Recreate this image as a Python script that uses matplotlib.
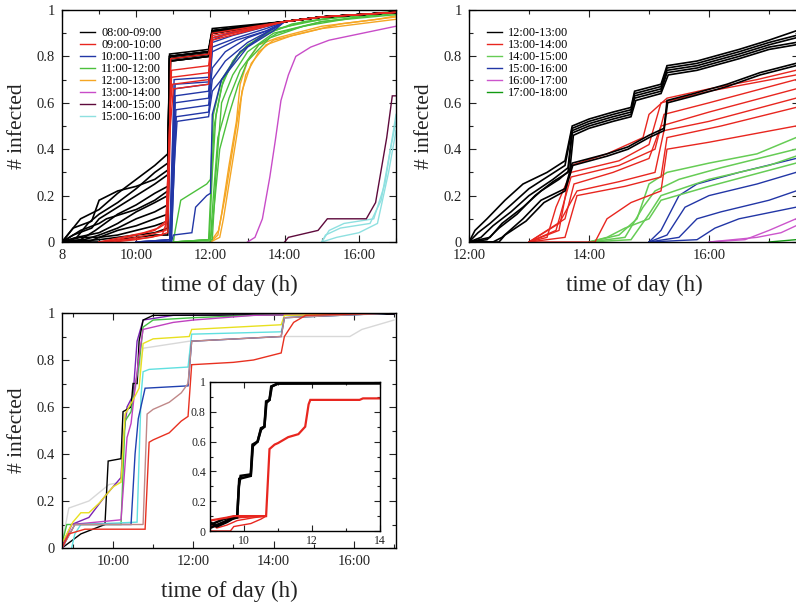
import numpy as np
import matplotlib
matplotlib.use("Agg")
import matplotlib.pyplot as plt
from matplotlib.lines import Line2D

plt.rcParams['font.family'] = ['Liberation Serif', 'DejaVu Serif']

# ---------------- panel 1: outbreaks started 08:00 ... 16:00 ----------------
p1_labels = ['08:00-09:00', '09:00-10:00', '10:00-11:00', '11:00-12:00',
             '12:00-13:00', '13:00-14:00', '14:00-15:00', '15:00-16:00']
p1_colors = ['#000000', '#e8261f', '#2236a6', '#4cc03c',
             '#f5a623', '#c84cc8', '#5e0a3c', '#8ee0e0']

p1_tail = [(14.0, 0.95), (15.0, 0.97), (16.5, 0.985), (17.0, 0.99)]

p1_black = [
    [(8.0, 0), (8.2, 0.04), (8.5, 0.1), (9.0, 0.14), (9.5, 0.21), (10.0, 0.27), (10.5, 0.33), (10.85, 0.38), (10.9, 0.8), (11.95, 0.82), (12.05, 0.91)],
    [(8.0, 0), (8.4, 0.02), (8.7, 0.08), (9.0, 0.12), (9.5, 0.17), (10.0, 0.23), (10.5, 0.3), (10.85, 0.34), (10.9, 0.79), (11.95, 0.81), (12.05, 0.9)],
    [(8.0, 0), (8.3, 0.03), (8.8, 0.06), (9.0, 0.1), (9.5, 0.15), (10.0, 0.2), (10.5, 0.25), (10.85, 0.29), (10.9, 0.8), (11.95, 0.82), (12.05, 0.91)],
    [(8.0, 0), (8.5, 0.01), (8.9, 0.05), (9.5, 0.12), (10.0, 0.16), (10.5, 0.21), (10.85, 0.24), (10.9, 0.78), (11.95, 0.8), (12.05, 0.9)],
    [(8.0, 0), (8.4, 0.02), (9.0, 0.04), (9.5, 0.08), (10.0, 0.13), (10.5, 0.17), (10.85, 0.2), (10.9, 0.79), (11.95, 0.81), (12.05, 0.91)],
    [(8.0, 0), (8.6, 0.01), (9.0, 0.03), (9.5, 0.06), (10.0, 0.1), (10.5, 0.13), (10.85, 0.16), (10.9, 0.8), (11.95, 0.82), (12.05, 0.9)],
    [(8.0, 0), (8.5, 0.02), (9.0, 0.02), (9.5, 0.05), (10.0, 0.07), (10.5, 0.1), (10.85, 0.12), (10.92, 0.78), (11.95, 0.8), (12.05, 0.9)],
    [(8.0, 0), (8.7, 0.0), (9.0, 0.02), (9.5, 0.03), (10.0, 0.05), (10.5, 0.07), (10.85, 0.09), (10.92, 0.79), (11.95, 0.81), (12.05, 0.91)],
    [(8.0, 0), (9.0, 0.01), (9.5, 0.02), (10.0, 0.03), (10.5, 0.04), (10.85, 0.06), (10.92, 0.8), (11.95, 0.82), (12.05, 0.9)],
    [(8.0, 0), (9.2, 0.0), (9.5, 0.01), (10.0, 0.02), (10.5, 0.03), (10.85, 0.03), (10.92, 0.78), (11.95, 0.8), (12.05, 0.9)],
    [(8.0, 0), (8.3, 0.06), (8.8, 0.09), (9.0, 0.18), (9.5, 0.22), (10.0, 0.24), (10.5, 0.27), (10.85, 0.31), (10.9, 0.81), (11.95, 0.83), (12.05, 0.92)],
    [(8.0, 0), (8.5, 0.05), (9.0, 0.08), (9.2, 0.1), (9.6, 0.12), (10.0, 0.14), (10.5, 0.18), (10.85, 0.22), (10.9, 0.8), (11.95, 0.82), (12.05, 0.91)],
]
p1_red = [
    [(9.0, 0), (9.5, 0.01), (10.0, 0.03), (10.5, 0.05), (10.8, 0.09), (10.88, 0.3), (10.93, 0.79), (11.95, 0.81), (12.05, 0.9)],
    [(9.0, 0), (9.6, 0.02), (10.2, 0.04), (10.6, 0.06), (10.8, 0.08), (10.88, 0.4), (10.95, 0.74), (11.95, 0.76), (12.05, 0.89)],
    [(9.0, 0), (9.7, 0.01), (10.3, 0.03), (10.8, 0.05), (10.9, 0.5), (10.95, 0.71), (11.95, 0.73), (12.05, 0.88)],
    [(9.0, 0), (9.4, 0.0), (10.0, 0.01), (10.7, 0.03), (10.85, 0.1), (10.92, 0.6), (10.98, 0.68), (11.95, 0.7), (12.05, 0.88)],
    [(9.0, 0), (9.8, 0.01), (10.4, 0.02), (10.85, 0.04), (10.92, 0.5), (11.0, 0.66), (11.95, 0.68), (12.05, 0.87)],
]
p1_blue = [
    [(10.0, 0), (10.9, 0.0), (10.97, 0.3), (11.02, 0.7), (11.95, 0.71), (12.05, 0.88), (12.5, 0.9), (13.2, 0.92)],
    [(10.0, 0), (10.9, 0.01), (10.97, 0.4), (11.03, 0.66), (11.95, 0.68), (12.05, 0.86), (12.6, 0.89), (13.3, 0.92)],
    [(10.0, 0), (10.92, 0.0), (10.98, 0.3), (11.05, 0.63), (11.95, 0.65), (12.05, 0.84), (12.7, 0.88), (13.5, 0.92)],
    [(10.0, 0), (10.92, 0.01), (11.0, 0.4), (11.05, 0.6), (11.95, 0.62), (12.05, 0.82), (12.7, 0.87), (13.5, 0.91)],
    [(10.0, 0), (10.93, 0.0), (11.0, 0.3), (11.07, 0.57), (11.95, 0.59), (12.05, 0.75), (12.4, 0.82), (13.0, 0.88), (13.7, 0.92)],
    [(10.0, 0), (10.94, 0.0), (11.02, 0.3), (11.08, 0.54), (11.95, 0.56), (12.05, 0.7), (12.4, 0.78), (13.0, 0.86), (13.7, 0.92)],
    [(10.0, 0), (10.95, 0.01), (11.03, 0.35), (11.1, 0.52), (11.95, 0.54), (12.05, 0.65), (12.5, 0.74), (13.0, 0.84), (13.7, 0.91)],
    [(10.0, 0), (10.95, 0.0), (11.0, 0.03), (11.5, 0.04), (11.6, 0.15), (11.9, 0.2), (12.0, 0.21), (12.05, 0.55), (12.3, 0.7), (12.8, 0.82), (13.5, 0.9)],
    [(10.0, 0), (10.93, 0.0), (11.0, 0.4), (11.05, 0.68), (11.95, 0.69), (12.05, 0.87), (12.5, 0.9), (13.2, 0.92)],
]
p1_green = [
    [(11.0, 0), (11.05, 0.05), (11.2, 0.18), (11.5, 0.21), (11.9, 0.25), (12.0, 0.27), (12.08, 0.55), (12.3, 0.7), (12.7, 0.8), (13.2, 0.87), (13.8, 0.92), (15.0, 0.96), (16.3, 0.98), (17.0, 0.99)],
    [(11.0, 0), (11.95, 0.01), (12.02, 0.25), (12.1, 0.5), (12.3, 0.67), (12.6, 0.78), (13.0, 0.85), (13.7, 0.91), (14.5, 0.95), (15.5, 0.97), (17.0, 0.99)],
    [(11.0, 0), (11.97, 0.01), (12.05, 0.3), (12.15, 0.55), (12.35, 0.7), (12.8, 0.82), (13.4, 0.89), (14.2, 0.94), (15.5, 0.97), (17.0, 0.995)],
    [(11.0, 0), (12.0, 0.01), (12.08, 0.2), (12.2, 0.45), (12.5, 0.62), (12.8, 0.74), (13.3, 0.85), (13.8, 0.9), (15.0, 0.95), (16.5, 0.98), (17.0, 0.99)],
    [(11.0, 0), (12.0, 0.0), (12.1, 0.15), (12.25, 0.4), (12.5, 0.55), (12.75, 0.68), (13.0, 0.78), (13.6, 0.88), (14.5, 0.93), (16.0, 0.97), (17.0, 0.985)],
    [(11.0, 0), (12.05, 0.01), (12.15, 0.3), (12.3, 0.6), (12.6, 0.72), (13.0, 0.82), (13.7, 0.9), (15.0, 0.95), (17.0, 0.98)],
]
p1_orange = [
    [(12.0, 0), (12.2, 0.03), (12.3, 0.12), (12.5, 0.33), (12.7, 0.52), (12.8, 0.68), (13.0, 0.78), (13.3, 0.85), (13.8, 0.88), (15.0, 0.93), (16.5, 0.96), (17.0, 0.975)],
    [(12.0, 0), (12.25, 0.02), (12.35, 0.1), (12.55, 0.3), (12.75, 0.5), (12.85, 0.65), (13.1, 0.77), (13.5, 0.85), (14.2, 0.89), (15.5, 0.94), (17.0, 0.97)],
    [(12.0, 0), (12.22, 0.05), (12.4, 0.2), (12.6, 0.4), (12.8, 0.6), (12.95, 0.72), (13.3, 0.82), (13.7, 0.87), (15.0, 0.92), (17.0, 0.96)],
]
p1_magenta = [
    [(13.0, 0), (13.2, 0.02), (13.4, 0.1), (13.6, 0.28), (13.75, 0.44), (13.9, 0.61), (14.1, 0.72), (14.3, 0.8), (14.7, 0.84), (15.2, 0.87), (16.1, 0.9), (17.0, 0.93)],
]
p1_maroon = [
    [(14.0, 0), (14.1, 0.02), (14.9, 0.05), (15.15, 0.1), (16.2, 0.1), (16.45, 0.17), (16.75, 0.45), (16.9, 0.63), (17.0, 0.63)],
]
p1_cyan = [
    [(15.0, 0), (15.1, 0.03), (15.5, 0.06), (16.3, 0.08), (16.6, 0.18), (16.85, 0.4), (17.0, 0.52)],
    [(15.0, 0), (15.2, 0.05), (15.6, 0.08), (16.4, 0.1), (16.7, 0.25), (16.9, 0.45), (17.0, 0.55)],
    [(15.0, 0), (15.4, 0.02), (16.0, 0.04), (16.5, 0.08), (16.8, 0.3), (17.0, 0.48)],
]

# ---------------- panel 2: outbreaks started 12:00 ... 17:00 ----------------
p2_labels = ['12:00-13:00', '13:00-14:00', '14:00-15:00', '15:00-16:00',
             '16:00-17:00', '17:00-18:00']
p2_colors = ['#000000', '#e8261f', '#66cc55', '#2236a6', '#cc55cc', '#129a12']

p2_black = [
    [(12.0, 0), (12.1, 0.05), (12.3, 0.1), (12.6, 0.18), (12.9, 0.25), (13.3, 0.3), (13.6, 0.35), (13.72, 0.5), (14.0, 0.53), (14.4, 0.56), (14.7, 0.58), (14.76, 0.65), (15.2, 0.68), (15.3, 0.76), (15.8, 0.78), (16.5, 0.83), (17.0, 0.87), (17.45, 0.91)],
    [(12.0, 0), (12.15, 0.04), (12.35, 0.08), (12.7, 0.16), (13.0, 0.23), (13.3, 0.28), (13.6, 0.33), (13.72, 0.49), (14.0, 0.52), (14.4, 0.55), (14.7, 0.57), (14.76, 0.64), (15.2, 0.67), (15.3, 0.75), (15.8, 0.77), (16.5, 0.82), (17.0, 0.86), (17.45, 0.89)],
    [(12.0, 0), (12.2, 0.02), (12.4, 0.07), (12.7, 0.13), (13.0, 0.2), (13.4, 0.27), (13.65, 0.32), (13.72, 0.48), (14.0, 0.51), (14.4, 0.54), (14.7, 0.56), (14.76, 0.63), (15.2, 0.66), (15.3, 0.74), (15.8, 0.76), (16.5, 0.81), (17.0, 0.85), (17.45, 0.88)],
    [(12.0, 0), (12.3, 0.01), (12.5, 0.06), (12.8, 0.12), (13.1, 0.2), (13.4, 0.26), (13.65, 0.3), (13.72, 0.47), (14.0, 0.5), (14.4, 0.53), (14.7, 0.55), (14.76, 0.62), (15.2, 0.65), (15.3, 0.73), (15.8, 0.75), (16.5, 0.8), (17.0, 0.84), (17.45, 0.86)],
    [(12.0, 0), (12.35, 0.02), (12.55, 0.08), (12.9, 0.15), (13.2, 0.22), (13.5, 0.27), (13.68, 0.31), (13.74, 0.46), (14.0, 0.49), (14.4, 0.52), (14.7, 0.54), (14.78, 0.61), (15.2, 0.64), (15.32, 0.72), (15.8, 0.74), (16.5, 0.79), (17.0, 0.83), (17.45, 0.85)],
    [(12.0, 0), (12.4, 0.0), (12.55, 0.02), (12.9, 0.1), (13.2, 0.18), (13.6, 0.23), (13.72, 0.34), (14.3, 0.38), (14.65, 0.41), (15.0, 0.46), (15.25, 0.49), (15.3, 0.61), (15.75, 0.64), (16.3, 0.68), (16.85, 0.73), (17.45, 0.77)],
    [(12.0, 0), (12.5, 0.0), (12.6, 0.03), (12.95, 0.09), (13.25, 0.17), (13.6, 0.22), (13.73, 0.33), (14.3, 0.37), (14.65, 0.4), (15.0, 0.45), (15.25, 0.48), (15.31, 0.6), (15.75, 0.63), (16.3, 0.67), (16.85, 0.72), (17.45, 0.76)],
]
p2_red = [
    [(13.0, 0), (13.5, 0.05), (13.7, 0.33), (14.3, 0.38), (14.9, 0.45), (15.0, 0.55), (15.3, 0.62), (16.0, 0.66), (16.8, 0.7), (17.45, 0.74)],
    [(13.0, 0), (13.45, 0.05), (13.7, 0.28), (14.5, 0.33), (15.1, 0.4), (15.25, 0.55), (16.0, 0.6), (17.45, 0.7)],
    [(13.0, 0), (13.6, 0.1), (13.75, 0.25), (14.4, 0.3), (15.0, 0.36), (15.2, 0.5), (16.0, 0.56), (17.45, 0.66)],
    [(13.0, 0), (13.5, 0.08), (13.8, 0.22), (14.5, 0.26), (15.1, 0.3), (15.25, 0.48), (16.0, 0.52), (17.45, 0.62)],
    [(13.0, 0), (13.6, 0.02), (13.8, 0.2), (14.6, 0.24), (15.2, 0.28), (15.3, 0.45), (16.2, 0.5), (17.45, 0.58)],
    [(13.0, 0), (14.1, 0.0), (14.3, 0.1), (14.7, 0.17), (15.2, 0.22), (15.3, 0.4), (16.0, 0.43), (17.45, 0.5)],
    [(13.0, 0), (13.3, 0.02), (13.45, 0.15), (13.7, 0.3), (14.5, 0.35), (15.0, 0.42), (15.2, 0.6), (16.0, 0.65), (17.45, 0.72)],
]
p2_green = [
    [(14.0, 0), (14.5, 0.03), (14.8, 0.1), (15.0, 0.25), (15.3, 0.3), (16.0, 0.34), (16.8, 0.38), (17.45, 0.45)],
    [(14.0, 0), (14.6, 0.02), (14.9, 0.15), (15.1, 0.22), (15.5, 0.27), (16.2, 0.32), (17.45, 0.4)],
    [(14.0, 0), (14.7, 0.01), (15.0, 0.12), (15.2, 0.2), (16.0, 0.27), (17.0, 0.33), (17.45, 0.37)],
    [(14.0, 0), (14.3, 0.02), (14.6, 0.06), (15.0, 0.1), (15.2, 0.18), (16.0, 0.24), (17.45, 0.34)],
]
p2_blue = [
    [(15.0, 0), (15.2, 0.05), (15.5, 0.2), (15.8, 0.25), (16.5, 0.3), (17.45, 0.36)],
    [(15.0, 0), (15.3, 0.03), (15.6, 0.15), (16.0, 0.2), (16.8, 0.25), (17.45, 0.3)],
    [(15.0, 0), (15.5, 0.02), (15.8, 0.1), (16.2, 0.13), (17.0, 0.18), (17.45, 0.22)],
    [(15.0, 0), (15.8, 0.01), (16.1, 0.06), (16.5, 0.1), (17.45, 0.15)],
]
p2_magenta = [
    [(16.0, 0), (16.6, 0.01), (17.0, 0.05), (17.45, 0.1)],
    [(16.0, 0), (16.8, 0.02), (17.2, 0.04), (17.45, 0.07)],
]
p2_dgreen = [
    [(17.0, 0), (17.45, 0.01)],
]

# ---------------- panel 3: single runs + inset ----------------
p3_colors = ['#d8d8d8', '#7a22b4', '#000000', '#44c044', '#c040c0',
             '#e8e020', '#60e0e0', '#2040b0', '#c08888', '#e83020']
p3_runs = [
    [(8.73, 0.02), (8.9, 0.17), (9.4, 0.2), (9.9, 0.27), (10.2, 0.28), (10.3, 0.55), (10.6, 0.7), (10.75, 0.85), (11.9, 0.88), (14.27, 0.9), (15.9, 0.9), (16.2, 0.93), (17.0, 0.97)],
    [(8.73, 0.01), (8.97, 0.1), (9.4, 0.13), (9.8, 0.22), (10.2, 0.3), (10.25, 0.45), (10.35, 0.6), (10.5, 0.65), (10.6, 0.88), (10.75, 0.97), (11.5, 0.99), (17.0, 0.995)],
    [(8.73, 0.0), (9.2, 0.06), (9.8, 0.1), (9.88, 0.37), (10.2, 0.38), (10.25, 0.58), (10.45, 0.6), (10.5, 0.7), (10.6, 0.7), (10.65, 0.88), (10.75, 0.97), (11.0, 0.99), (17.0, 0.995)],
    [(8.73, 0.02), (8.85, 0.1), (10.2, 0.1), (10.3, 0.54), (10.45, 0.58), (10.55, 0.69), (10.65, 0.78), (10.75, 0.94), (11.0, 0.97), (12.0, 0.98), (13.5, 0.99), (17.0, 1.0)],
    [(8.75, 0), (8.97, 0.1), (10.2, 0.12), (10.35, 0.47), (10.45, 0.53), (10.55, 0.68), (10.65, 0.82), (10.75, 0.93), (11.5, 0.96), (12.0, 0.97), (13.5, 0.99), (17.0, 1.0)],
    [(8.73, 0.02), (9.0, 0.11), (9.2, 0.15), (9.4, 0.15), (9.65, 0.19), (10.0, 0.26), (10.2, 0.28), (10.3, 0.57), (10.5, 0.63), (10.65, 0.68), (10.75, 0.87), (11.0, 0.89), (11.9, 0.9), (11.96, 0.93), (14.19, 0.95), (14.27, 0.99), (17.0, 1.0)],
    [(8.97, 0.0), (9.05, 0.06), (9.2, 0.1), (10.6, 0.11), (10.7, 0.65), (10.75, 0.75), (10.9, 0.76), (11.87, 0.77), (11.96, 0.91), (14.19, 0.92), (14.27, 0.98), (17.0, 1.0)],
    [(8.73, 0.0), (9.05, 0.1), (10.45, 0.1), (10.55, 0.4), (10.63, 0.55), (10.8, 0.68), (11.87, 0.69), (11.96, 0.88), (14.19, 0.9), (14.27, 0.98), (17.0, 1.0)],
    [(8.73, 0.0), (9.05, 0.1), (10.75, 0.1), (10.85, 0.57), (11.0, 0.59), (11.4, 0.62), (11.7, 0.66), (11.87, 0.7), (11.96, 0.88), (14.19, 0.9), (14.27, 0.98), (17.0, 1.0)],
    [(8.73, 0.0), (8.9, 0.06), (9.3, 0.08), (10.8, 0.08), (10.9, 0.45), (11.0, 0.46), (11.4, 0.49), (11.7, 0.54), (11.87, 0.56), (11.96, 0.78), (13.0, 0.79), (13.5, 0.8), (14.19, 0.83), (14.27, 0.9), (14.5, 0.96), (14.8, 0.99), (17.0, 1.0)],
]

inset_black = [
    [(9.0, 0.04), (9.4, 0.08), (9.8, 0.1), (9.85, 0.3), (9.9, 0.37), (10.2, 0.38), (10.25, 0.58), (10.4, 0.6), (10.5, 0.69), (10.6, 0.7), (10.65, 0.87), (10.75, 0.88), (10.8, 0.97), (11.0, 0.99), (14.0, 0.99)],
    [(9.0, 0.02), (9.3, 0.05), (9.6, 0.08), (9.8, 0.09), (9.86, 0.35), (10.2, 0.37), (10.26, 0.57), (10.4, 0.6), (10.5, 0.68), (10.6, 0.7), (10.66, 0.86), (10.75, 0.88), (10.82, 0.97), (11.0, 0.99), (14.0, 0.995)],
    [(9.0, 0.06), (9.2, 0.03), (9.5, 0.06), (9.8, 0.1)],
]
inset_red = [
    [(9.0, 0.07), (9.5, 0.09), (9.7, 0.1), (10.65, 0.1), (10.75, 0.55), (10.9, 0.58), (11.0, 0.59), (11.3, 0.63), (11.6, 0.65), (11.8, 0.7), (11.9, 0.85), (11.95, 0.88), (13.4, 0.88), (13.5, 0.89), (14.0, 0.89)],
    [(9.0, 0.03), (9.3, 0.05), (9.6, 0.08), (9.9, 0.09), (10.65, 0.1)],
    [(9.0, 0.05), (9.2, 0.02), (9.5, 0.04), (9.8, 0.07), (10.3, 0.09), (10.65, 0.1)],
    [(9.0, 0.0), (9.6, 0.0), (9.7, 0.03), (10.2, 0.05), (10.5, 0.08), (10.65, 0.1)],
]


def draw(ax, runs, color, lw=1.0):
    for r in runs:
        t, v = zip(*r)
        ax.plot(t, v, color=color, lw=lw, solid_joinstyle='miter')


def style(ax, major, labels, minor, xlim, fs=10.5):
    ax.set_xlim(*xlim)
    ax.set_ylim(0, 1)
    ax.set_xticks(major, labels)
    ax.set_xticks(minor, minor=True)
    ax.set_yticks(np.arange(0, 1.01, 0.2), ['0', '0.2', '0.4', '0.6', '0.8', '1'])
    ax.set_yticks(np.arange(0.1, 1.0, 0.2), minor=True)
    ax.tick_params(which='both', direction='in', top=True, right=True,
                   labelsize=fs, colors='#222222')
    ax.tick_params(which='major', length=5, width=0.8, pad=5)
    ax.tick_params(which='minor', length=3, width=0.8)
    for s in ax.spines.values():
        s.set_linewidth(1.0)


W, H = 796, 606
fig = plt.figure(figsize=(W / 100, H / 100), dpi=100)

ax1 = fig.add_axes([62 / W, 1 - 242 / H, 334 / W, 232 / H])
ax2 = fig.add_axes([469 / W, 1 - 242 / H, 330 / W, 232 / H])
ax3 = fig.add_axes([62 / W, 1 - 548 / H, 334 / W, 235 / H])
ax4 = fig.add_axes([210 / W, 1 - 531 / H, 170 / W, 149 / H])

# panel 1
draw(ax1, p1_cyan, p1_colors[7])
draw(ax1, p1_maroon, p1_colors[6])
draw(ax1, p1_magenta, p1_colors[5])
draw(ax1, p1_orange, p1_colors[4])
draw(ax1, p1_green, p1_colors[3])
draw(ax1, [r + p1_tail for r in p1_blue], p1_colors[2])
draw(ax1, [r + p1_tail for r in p1_black], p1_colors[0], 1.2)
draw(ax1, [r + p1_tail for r in p1_red], p1_colors[1])
style(ax1, [8, 10, 12, 14, 16], ['8', '10:00', '12:00', '14:00', '16:00'],
      [9, 11, 13, 15, 17], (8, 17))
h1 = [Line2D([], [], color=c, lw=1.0) for c in p1_colors]
ax1.legend(h1, p1_labels, loc='upper left', bbox_to_anchor=(0.055, 0.925),
           frameon=False, fontsize=8.8, handlelength=1.2, handletextpad=0.5,
           labelspacing=0.0, borderpad=0, borderaxespad=0)

# panel 2
draw(ax2, p2_dgreen, p2_colors[5])
draw(ax2, p2_magenta, p2_colors[4])
draw(ax2, p2_blue, p2_colors[3])
draw(ax2, p2_green, p2_colors[2], 1.1)
draw(ax2, p2_red, p2_colors[1])
draw(ax2, p2_black, p2_colors[0], 1.2)
style(ax2, [12, 14, 16], ['12:00', '14:00', '16:00'], [13, 15, 17], (12, 17.5))
h2 = [Line2D([], [], color=c, lw=1.0) for c in p2_colors]
ax2.legend(h2, p2_labels, loc='upper left', bbox_to_anchor=(0.055, 0.925),
           frameon=False, fontsize=8.8, handlelength=1.2, handletextpad=0.5,
           labelspacing=0.0, borderpad=0, borderaxespad=0)

# panel 3
for r, c in zip(p3_runs, p3_colors):
    draw(ax3, [r], c, 1.0)
style(ax3, [10, 12, 14, 16], ['10:00', '12:00', '14:00', '16:00'],
      [9, 11, 13, 15, 17], (8.73, 17.05))

# inset
draw(ax4, inset_red[1:], '#e8261f', 1.0)
draw(ax4, inset_black, '#000000', 1.8)
draw(ax4, inset_red[:1], '#e8261f', 1.6)
style(ax4, [10, 12, 14], ['10', '12', '14'], [9, 11, 13], (9, 14), fs=8.5)
ax4.tick_params(which='major', length=4, pad=3)
ax4.tick_params(which='minor', length=2)

for ax in (ax1, ax2, ax3):
    ax.set_xlabel('time of day (h)', fontsize=16.5, labelpad=9, color='#222222')
    ax.set_ylabel('# infected', fontsize=15.5, labelpad=7, color='#222222')

fig.savefig('out.png', dpi=100)
